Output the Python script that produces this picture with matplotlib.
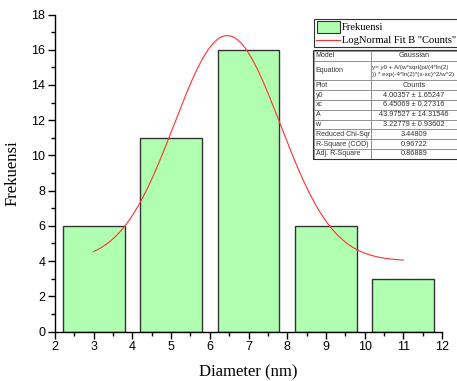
import numpy as np
import matplotlib
matplotlib.use("Agg")
import matplotlib.pyplot as plt
from matplotlib.patches import Rectangle
from matplotlib.lines import Line2D

# histogram data
centers = [3, 5, 7, 9, 11]
counts = [6, 11, 16, 6, 3]
bar_width = 1.6

# fit parameters (Gaussian, as reported in the table)
y0 = 4.00357
xc = 6.45069
A = 43.97527
w = 3.22779
fit_range = (3, 11)

table_rows = [
    ("Model", "Gaussian"),
    ("Equation", "y= y0 + A/(w*sqrt(pi/(4*ln(2)\n)) * exp(-4*ln(2)*(x-xc)^2/w^2)"),
    ("Plot", "Counts"),
    ("y0", "4.00357 \u00b1 1.65247"),
    ("xc", "6.45069 \u00b1 0.27316"),
    ("A", "43.97527 \u00b1 14.31546"),
    ("w", "3.22779 \u00b1 0.93602"),
    ("Reduced Chi-Sqr", "3.44809"),
    ("R-Square (COD)", "0.96722"),
    ("Adj. R-Square", "0.86889"),
]

W, H = 457, 381
fig = plt.figure(figsize=(W / 100, H / 100), dpi=100)
ax = fig.add_axes([55 / W, 1 - 331.5 / H, (442 - 55) / W, (331.5 - 14.5) / H])

ax.bar(centers, counts, width=bar_width, color="#b0ffb0", edgecolor="#333333",
       linewidth=1.0, zorder=2)

xs = np.linspace(fit_range[0], fit_range[1], 300)
ys = y0 + A / (w * np.sqrt(np.pi / (4 * np.log(2)))) * np.exp(-4 * np.log(2) * (xs - xc) ** 2 / w ** 2)
ax.plot(xs, ys, color="#ff3030", linewidth=0.8, zorder=3)

ax.set_xlim(2, 12)
ax.set_ylim(0, 18)
ax.set_xticks(range(2, 13))
ax.set_yticks(range(0, 19, 2))
ax.set_xticks(np.arange(2.5, 12, 1), minor=True)
ax.set_yticks(range(1, 18, 2), minor=True)
for s in ["top", "right"]:
    ax.spines[s].set_visible(False)
for s in ["left", "bottom"]:
    ax.spines[s].set_linewidth(1.0)
ax.tick_params(which="major", direction="out", length=5, width=1.0,
               labelsize=9, pad=2)
ax.tick_params(which="minor", direction="out", length=3, width=1.0)
for lbl in ax.get_xticklabels() + ax.get_yticklabels():
    lbl.set_fontfamily("Liberation Sans")

ax.set_xlabel("Diameter (nm)", fontfamily="Liberation Serif", fontsize=12, labelpad=8)
ax.set_ylabel("Frekuensi", fontfamily="Liberation Serif", fontsize=12, labelpad=8)


def fx(px):
    return px / W


def fy(py):
    return 1 - py / H


# legend box
fig.add_artist(Rectangle((fx(314), fy(47)), fx(150), 28 / H, transform=fig.transFigure,
                         facecolor="white", edgecolor="#333333", linewidth=0.8))
fig.add_artist(Rectangle((fx(316.5), fy(33)), fx(23), 11.5 / H, transform=fig.transFigure,
                         facecolor="#b0ffb0", edgecolor="#333333", linewidth=0.8))
fig.add_artist(Line2D([fx(316), fx(340)], [fy(40), fy(40)], transform=fig.transFigure,
                      color="#ff3030", linewidth=0.8))
fig.text(fx(341.5), fy(27), "Frekuensi", fontfamily="Liberation Serif", fontsize=7.6,
         va="center", ha="left")
fig.text(fx(341.5), fy(40.5), 'LogNormal Fit B "Counts"', fontfamily="Liberation Serif",
         fontsize=7.6, va="center", ha="left")

# fit results table
top = 51
row_h = 9.8
col_x = (314, 371, 470)
y = top
for label, value in table_rows:
    h = row_h * (2 if "\n" in value else 1)
    fig.add_artist(Rectangle((fx(col_x[0]), fy(y + h)), fx(col_x[1] - col_x[0]), h / H,
                             transform=fig.transFigure, facecolor="white",
                             edgecolor="#888888", linewidth=0.6))
    fig.add_artist(Rectangle((fx(col_x[1]), fy(y + h)), fx(col_x[2] - col_x[1]), h / H,
                             transform=fig.transFigure, facecolor="white",
                             edgecolor="#888888", linewidth=0.6))
    fig.text(fx(col_x[0] + 1.5), fy(y + h / 2), label, fontfamily="Liberation Sans",
             fontsize=5.0, color="#333333", va="center", ha="left")
    if "\n" in value:
        fig.text(fx(col_x[1] + 1.5), fy(y + h / 2), value, fontfamily="Liberation Sans",
                 fontsize=4.5, color="#333333", va="center", ha="left", linespacing=1.5)
    else:
        fig.text(fx(414), fy(y + h / 2), value, fontfamily="Liberation Sans",
                 fontsize=5.3, color="#333333", va="center", ha="center")
    y += h
fig.add_artist(Rectangle((fx(313), fy(y + 0.5)), fx(160), (y + 0.5 - top + 1) / H,
                         transform=fig.transFigure, facecolor="none",
                         edgecolor="#333333", linewidth=0.8))

fig.savefig("out.png", dpi=100)
